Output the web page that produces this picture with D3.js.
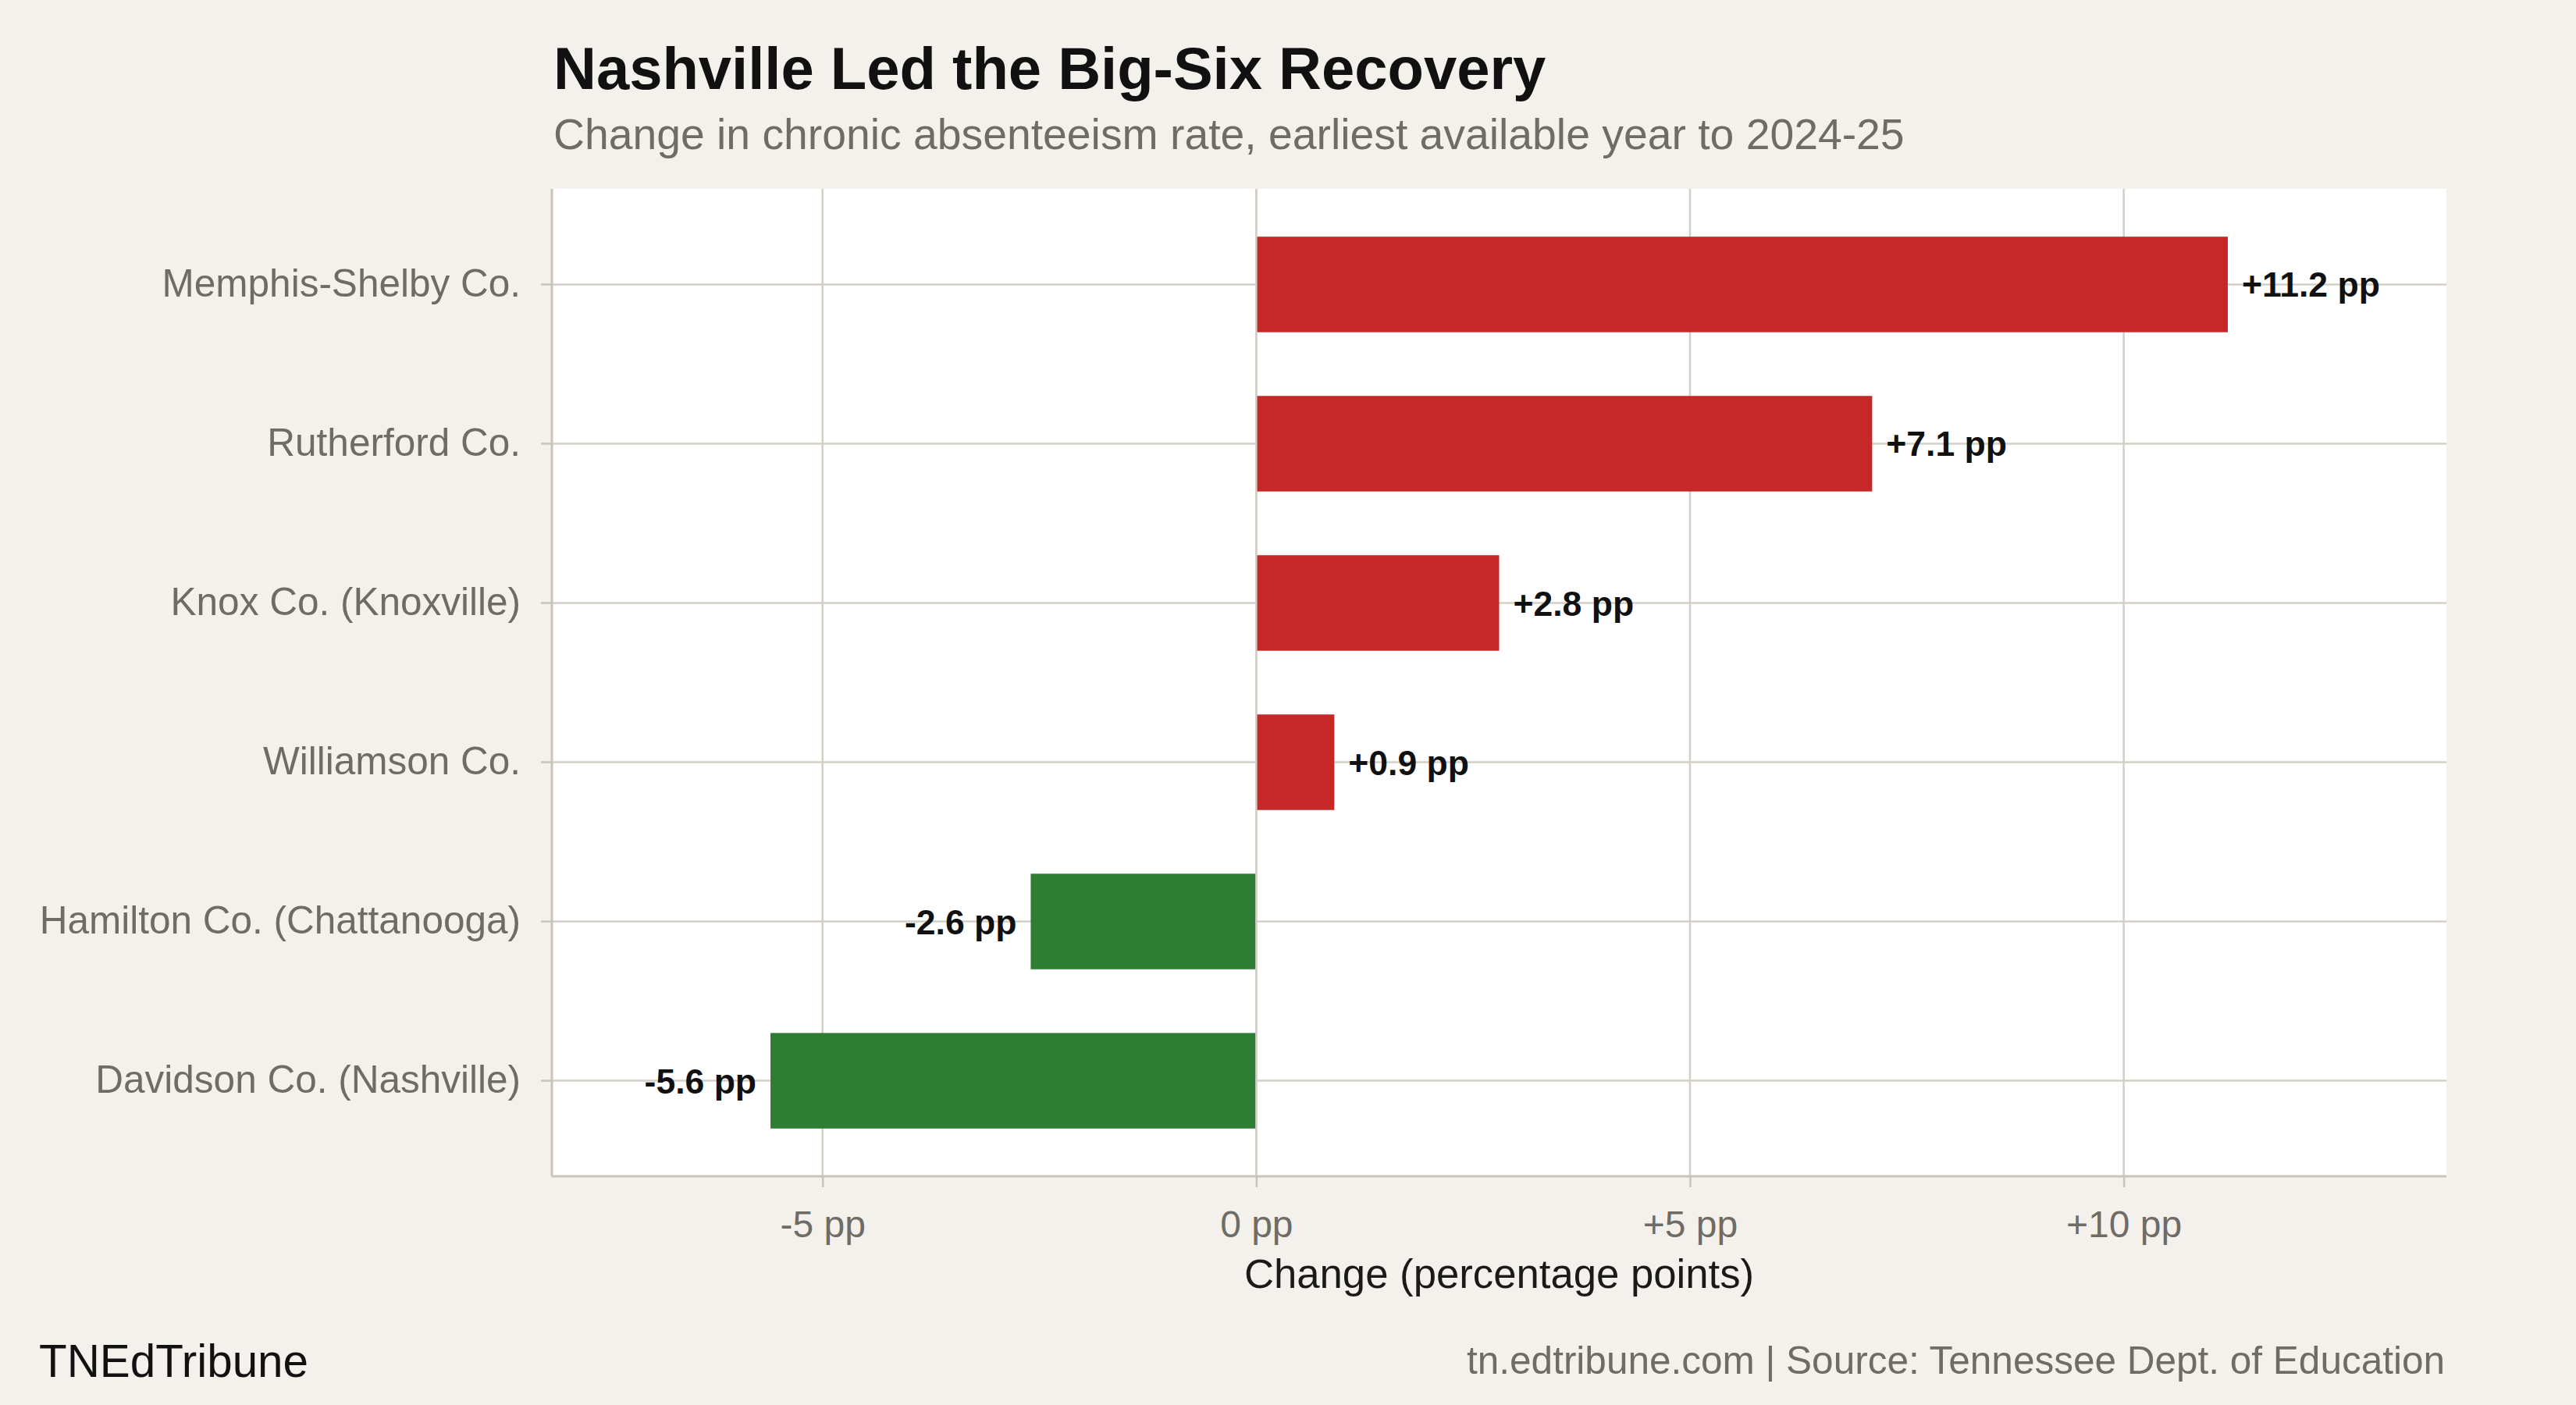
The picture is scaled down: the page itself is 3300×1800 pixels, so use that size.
<!DOCTYPE html>
<html>
<head>
<meta charset="utf-8">
<title>Nashville Led the Big-Six Recovery</title>
<script src="https://cdn.jsdelivr.net/npm/d3@7"></script>
<style>
  html, body { margin: 0; padding: 0; background: #f4f1ec; }
  svg { display: block; font-family: "Liberation Sans", Arial, Helvetica, sans-serif; }
</style>
</head>
<body>
<div id="chart"></div>
<script>
// districts, top to bottom
const districts = [
  "Memphis-Shelby Co.",
  "Rutherford Co.",
  "Knox Co. (Knoxville)",
  "Williamson Co.",
  "Hamilton Co. (Chattanooga)",
  "Davidson Co. (Nashville)"
];
// change in chronic absenteeism rate (pp)
const changes = [11.2, 7.1, 2.8, 0.9, -2.6, -5.6];
const xTicks = [-5, 0, 5, 10];

const width = 3300, height = 1800;
const margin = {top: 242, right: 166, bottom: 293, left: 707};
const innerW = width - margin.left - margin.right;
const innerH = height - margin.top - margin.bottom;

const data = districts.map((d, i) => ({name: d, value: changes[i]}));

// ggplot-ish 15% expansion around the data range
const lo = d3.min(changes), hi = d3.max(changes);
const pad = (hi - lo) * 0.15;
const x = d3.scaleLinear().domain([lo - pad, hi + pad]).range([0, innerW]);
const y = d3.scaleBand().domain(districts).range([0, innerH]).paddingInner(0.4).paddingOuter(0.3);

const gridCol = "#d3cec6";
const axisCol = "#c9c3b9";

const svg = d3.select("#chart").append("svg")
    .attr("width", width)
    .attr("height", height);

svg.append("rect").attr("width", width).attr("height", height).attr("fill", "#f4f1ec");

// title + subtitle
svg.append("text")
    .attr("x", 709).attr("y", 114)
    .attr("font-size", 76).attr("font-weight", "bold").attr("fill", "#111")
    .text("Nashville Led the Big-Six Recovery");
svg.append("text")
    .attr("x", 709).attr("y", 191)
    .attr("font-size", 55.3).attr("fill", "#6f6b65")
    .text("Change in chronic absenteeism rate, earliest available year to 2024-25");

const g = svg.append("g").attr("transform", `translate(${margin.left},${margin.top})`);

// panel
g.append("rect").attr("width", innerW).attr("height", innerH).attr("fill", "#fff");

// vertical grid
g.append("g").selectAll("line").data(xTicks).join("line")
    .attr("x1", d => x(d)).attr("x2", d => x(d))
    .attr("y1", 0).attr("y2", innerH)
    .attr("stroke", gridCol).attr("stroke-width", 2.5);

// horizontal grid
g.append("g").selectAll("line").data(districts).join("line")
    .attr("x1", 0).attr("x2", innerW)
    .attr("y1", d => y(d) + y.bandwidth() / 2).attr("y2", d => y(d) + y.bandwidth() / 2)
    .attr("stroke", gridCol).attr("stroke-width", 2.5);

// bars
g.append("g").selectAll("rect").data(data).join("rect")
    .attr("x", d => x(Math.min(0, d.value)))
    .attr("width", d => Math.abs(x(d.value) - x(0)))
    .attr("y", d => y(d.name))
    .attr("height", y.bandwidth())
    .attr("fill", d => d.value > 0 ? "#c62828" : "#2e7d32");

// zero line on top
g.append("line")
    .attr("x1", x(0)).attr("x2", x(0)).attr("y1", 0).attr("y2", innerH)
    .attr("stroke", gridCol).attr("stroke-width", 2.5);

// value labels
const fmt = v => (v > 0 ? "+" : "") + v.toFixed(1) + " pp";
g.append("g").selectAll("text").data(data).join("text")
    .attr("x", d => d.value > 0 ? x(d.value) + 18 : x(d.value) - 18)
    .attr("y", d => y(d.name) + y.bandwidth() / 2)
    .attr("dy", "0.36em")
    .attr("text-anchor", d => d.value > 0 ? "start" : "end")
    .attr("font-size", 44.5).attr("font-weight", "bold").attr("fill", "#111")
    .text(d => fmt(d.value));

// axes
const yAxis = g.append("g")
    .call(d3.axisLeft(y).tickSize(14).tickPadding(26));
const xAxis = g.append("g")
    .attr("transform", `translate(0,${innerH})`)
    .call(d3.axisBottom(x).tickValues(xTicks).tickSize(14).tickPadding(30)
        .tickFormat(d => (d > 0 ? "+" : "") + d + " pp"));

[yAxis, xAxis].forEach(a => {
  a.select(".domain").attr("stroke", axisCol).attr("stroke-width", 3);
  a.selectAll(".tick line").attr("stroke", axisCol).attr("stroke-width", 2.5);
  a.selectAll(".tick text").attr("fill", "#6f6b65").attr("font-size", 48)
      .attr("font-family", "\"Liberation Sans\", Arial, Helvetica, sans-serif");
});
yAxis.selectAll(".tick text").attr("font-size", 49.5);
xAxis.selectAll(".tick text").attr("dy", "0.71em");
xAxis.select(".domain").attr("d", `M0,0H${innerW}`);
yAxis.select(".domain").attr("d", `M0,0V${innerH}`);

// x-axis title
svg.append("text")
    .attr("x", margin.left + innerW / 2).attr("y", 1650)
    .attr("text-anchor", "middle")
    .attr("font-size", 52.7).attr("fill", "#1a1a1a")
    .text("Change (percentage points)");

// footer
svg.append("text")
    .attr("x", 50).attr("y", 1764)
    .attr("font-size", 58.4).attr("fill", "#111")
    .text("TNEdTribune");
svg.append("text")
    .attr("x", 3132).attr("y", 1760)
    .attr("text-anchor", "end")
    .attr("font-size", 49.5).attr("fill", "#6f6b65")
    .text("tn.edtribune.com | Source: Tennessee Dept. of Education");
</script>
</body>
</html>
